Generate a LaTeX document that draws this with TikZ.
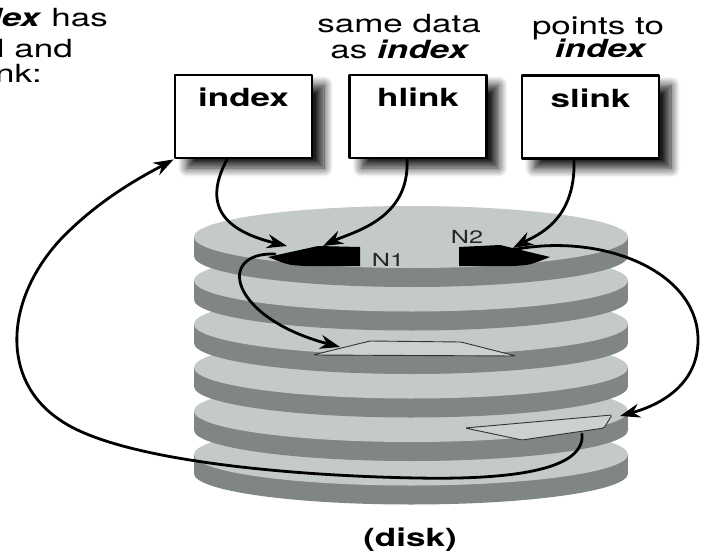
\documentclass[tikz,border=0pt]{standalone}
\usepackage{fontspec}
\setmainfont{TeX Gyre Heros}
\usepackage{graphicx}
\usetikzlibrary{arrows.meta,shadows.blur}
\definecolor{platetop}{RGB}{196,201,202}
\definecolor{plateside}{RGB}{128,134,134}
\definecolor{blockfill}{RGB}{204,208,208}
\newcommand\wide[1]{\scalebox{1.4}[1]{#1}}
\tikzset{
  filebox/.style={draw, line width=2.8pt, fill=white, minimum width=137pt,
    text height=32pt, text depth=51pt, inner sep=0pt,
    font=\fontsize{25}{28}\selectfont\bfseries,
    blur shadow={shadow xshift=12pt, shadow yshift=-10pt, shadow blur radius=9pt, shadow opacity=90, shadow blur steps=12}},
  txt/.style={font=\fontsize{25}{28}\selectfont, inner sep=0pt},
  link/.style={line width=2.8pt, -{Stealth[length=20pt,width=14pt]}},
  block/.style={fill=blockfill, draw=black!80, line width=0.9pt, rounded corners=1.5pt},
}
\begin{document}
\begin{tikzpicture}[x=1pt, y=-1pt, line join=round, line cap=round]
\useasboundingbox (0,0) rectangle (711,556);
\def\cx{411} \def\rx{217} \def\ry{31} \def\thick{19}
% platters, lowest one first
\foreach \i in {5,4,3,2,1,0}{
  \pgfmathsetmacro\cy{237+43.5*\i}
  \fill[plateside] (\cx,\cy+\thick) ellipse [x radius=\rx, y radius=\ry];
  \fill[plateside] (\cx-\rx,\cy) rectangle (\cx+\rx,\cy+\thick);
  \fill[platetop] (\cx,\cy) ellipse [x radius=\rx, y radius=\ry];
}
% data blocks
\draw[block] (313,355) -- (370,341) -- (461,342) -- (516,356) -- cycle;
\draw[block] (465,428) -- (612,415) -- (604,428) -- (522,440) -- cycle;
% inodes
\fill (360,247) -- (318,246) -- (268,257) .. controls (288,265) .. (305,266) -- (360,266) -- cycle;
\fill (459,247) -- (500,245) -- (550,257) .. controls (530,265) .. (513,266) -- (459,266) -- cycle;
\node[txt, font=\fontsize{18}{20}\selectfont, text=black!85] (n1) at (388,260) {\wide{N1}};
\node[txt, font=\fontsize{18}{20}\selectfont, text=black!85] (n2) at (467,237) {\wide{N2}};
\coordinate (n1a) at (287,246);
\coordinate (n1b) at (323,246);
\coordinate (n1s) at (275,254);
\coordinate (n2a) at (513,248);
\coordinate (n2s) at (512,250);
\coordinate (b3) at (340,347);
\coordinate (b5) at (620,416);
\coordinate (b5s) at (582,434);
% files
\node[filebox] (idx) at (243.5,116.5) {\wide{index}};
\node[filebox] (hlk) at (418,116.5) {\wide{hlink}};
\node[filebox] (slk) at (590.5,117) {\wide{slink}};
% texts
\node[txt, anchor=base east] (l1) at (108,27) {\wide{\textbf{\textit{dex}} has}};
\node[txt, anchor=base east] (l2) at (73,58) {\wide{l and}};
\node[txt, anchor=base east] (l3) at (42,83) {\wide{nk:}};
\node[txt, anchor=base] (h1) at (399,33) {\wide{same data}};
\node[txt, anchor=base] (h2) at (400,59) {\wide{as \textbf{\textit{index}}}};
\node[txt, anchor=base] (s1) at (598,35) {\wide{points to}};
\node[txt, anchor=base] (s2) at (601,58) {\wide{\textbf{\textit{index}}}};
\node[txt, font=\fontsize{25}{28}\selectfont\bfseries, anchor=base] (dsk) at (410,546) {\wide{(disk)}};
% links
\draw[link] ([xshift=-16.5pt]idx.south) .. controls (200,210) and (230,232) .. (n1a);
\draw[link] ([xshift=-11pt]hlk.south) .. controls (410,220) and (352,232) .. (n1b);
\draw[link] ([xshift=-16.5pt]slk.south) .. controls (576,222) and (535,236) .. (n2a);
\draw[link] (n1s) .. controls (215,252) and (230,318) .. (b3);
\draw[link] (n2s) .. controls (600,232) and (698,270) .. (698,340) .. controls (698,385) and (660,405) .. (b5);
\draw[link] (b5s) .. controls (585,468) and (520,480) .. (417,478) .. controls (300,476) and (120,462) .. (60,420)
  .. controls (0,380) and (5,300) .. (60,240) .. controls (100,198) and (145,175) .. (idx.south west);
\end{tikzpicture}
\end{document}
